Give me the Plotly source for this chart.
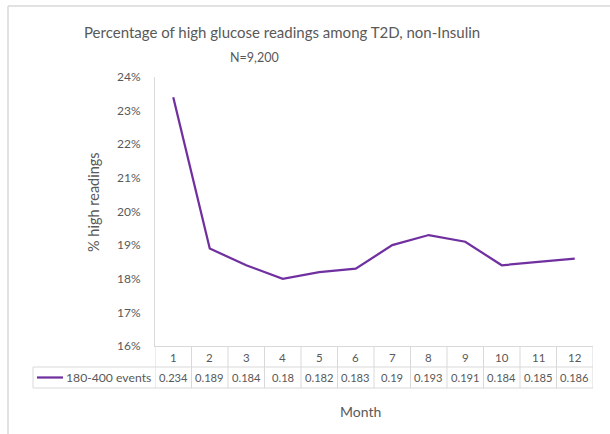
import plotly.graph_objects as go

months = [1, 2, 3, 4, 5, 6, 7, 8, 9, 10, 11, 12]
values = [0.234, 0.189, 0.184, 0.18, 0.182, 0.183, 0.19, 0.193, 0.191, 0.184, 0.185, 0.186]
series_name = "180-400 events"
title_text = "Percentage of high glucose readings among T2D, non-Insulin"
subtitle_text = "N=9,200"
y_title = "% high readings"
x_title = "Month"

FONT = "Lato"
TXT = "#595959"
GRID = "#D9D9D9"
LINE = "#7030A0"

W, H = 610, 434
L, R, T, B = 155, 17, 77, 88
PW, PH = W - L - R, H - T - B


def px(xp):
    return (xp - L) / PW


def py(yp):
    return (H - B - yp) / PH


fig = go.Figure()
fig.add_trace(go.Scatter(x=months, y=values, mode="lines",
                         line=dict(color=LINE, width=2.25), name=series_name,
                         showlegend=False, cliponaxis=False))

shapes = []
annos = []

hdr_top, hdr_bot, row_bot = 346, 367, 388
tbl_left = 33

for k in range(len(months) + 1):
    xv = months[0] - 0.5 + k
    shapes.append(dict(type="line", xref="x", yref="paper", x0=xv, x1=xv,
                       y0=py(hdr_top), y1=py(row_bot), line=dict(color=GRID, width=1)))
shapes.append(dict(type="line", xref="paper", yref="paper", x0=px(tbl_left), x1=1,
                   y0=py(hdr_bot), y1=py(hdr_bot), line=dict(color=GRID, width=1)))
shapes.append(dict(type="line", xref="paper", yref="paper", x0=px(tbl_left), x1=1,
                   y0=py(row_bot), y1=py(row_bot), line=dict(color=GRID, width=1)))
shapes.append(dict(type="line", xref="paper", yref="paper", x0=px(tbl_left), x1=px(tbl_left),
                   y0=py(hdr_bot), y1=py(row_bot), line=dict(color=GRID, width=1)))
shapes.append(dict(type="line", xref="paper", yref="paper", x0=px(37), x1=px(63),
                   y0=py(377.5), y1=py(377.5), line=dict(color=LINE, width=2.25)))
# outer chart border (top and left)
shapes.append(dict(type="line", xref="paper", yref="paper", x0=px(8), x1=px(610),
                   y0=py(6), y1=py(6), line=dict(color=GRID, width=1.5)))
shapes.append(dict(type="line", xref="paper", yref="paper", x0=px(8), x1=px(8),
                   y0=py(6), y1=py(434), line=dict(color=GRID, width=1.5)))

for m, v in zip(months, values):
    annos.append(dict(x=m, y=py(357), xref="x", yref="paper", text=str(m),
                      showarrow=False, font=dict(family=FONT, size=11.5, color=TXT),
                      xanchor="center", yanchor="middle"))
    annos.append(dict(x=m, y=py(377.5), xref="x", yref="paper", text=f"{v:.3g}",
                      showarrow=False, font=dict(family=FONT, size=11.2, color=TXT),
                      xanchor="center", yanchor="middle"))
annos.append(dict(x=px(153), y=py(377.5), xref="paper", yref="paper", text=series_name,
                  showarrow=False, font=dict(family=FONT, size=12.2, color=TXT),
                  xanchor="right", yanchor="middle"))

annos.append(dict(x=px(282), y=py(32), xref="paper", yref="paper", text=title_text,
                  showarrow=False, font=dict(family=FONT, size=15, color=TXT),
                  xanchor="center", yanchor="middle"))
annos.append(dict(x=px(254), y=py(57), xref="paper", yref="paper", text=subtitle_text,
                  showarrow=False, font=dict(family=FONT, size=12.5, color=TXT),
                  xanchor="center", yanchor="middle"))
annos.append(dict(x=px(93), y=py(202), xref="paper", yref="paper", text=y_title,
                  showarrow=False, textangle=-90, font=dict(family=FONT, size=14.5, color=TXT),
                  xanchor="center", yanchor="middle"))
annos.append(dict(x=px(360), y=py(411), xref="paper", yref="paper", text=x_title,
                  showarrow=False, font=dict(family=FONT, size=14, color=TXT),
                  xanchor="center", yanchor="middle"))

fig.update_layout(
    width=W, height=H,
    margin=dict(l=L, r=R, t=T, b=B, pad=0),
    paper_bgcolor="white", plot_bgcolor="white",
    showlegend=False,
    shapes=shapes, annotations=annos,
    xaxis=dict(range=[0.5, 12.5], showticklabels=False, showgrid=False, zeroline=False,
               showline=True, linecolor=GRID, linewidth=1, ticks="", fixedrange=True),
    yaxis=dict(range=[0.16, 0.24], dtick=0.01, tick0=0.16, tickformat=".0%",
               showgrid=False, zeroline=False, showline=True, linecolor=GRID, linewidth=1,
               ticks="", ticklabelstandoff=11,
               tickfont=dict(family=FONT, size=12, color=TXT), fixedrange=True),
)

fig.write_html(
    "out.html", config={"displayModeBar": False},
    post_script=("document.body.style.margin='0';"
                 "document.body.style.overflow='hidden';"
                 "document.documentElement.style.overflow='hidden';"))
